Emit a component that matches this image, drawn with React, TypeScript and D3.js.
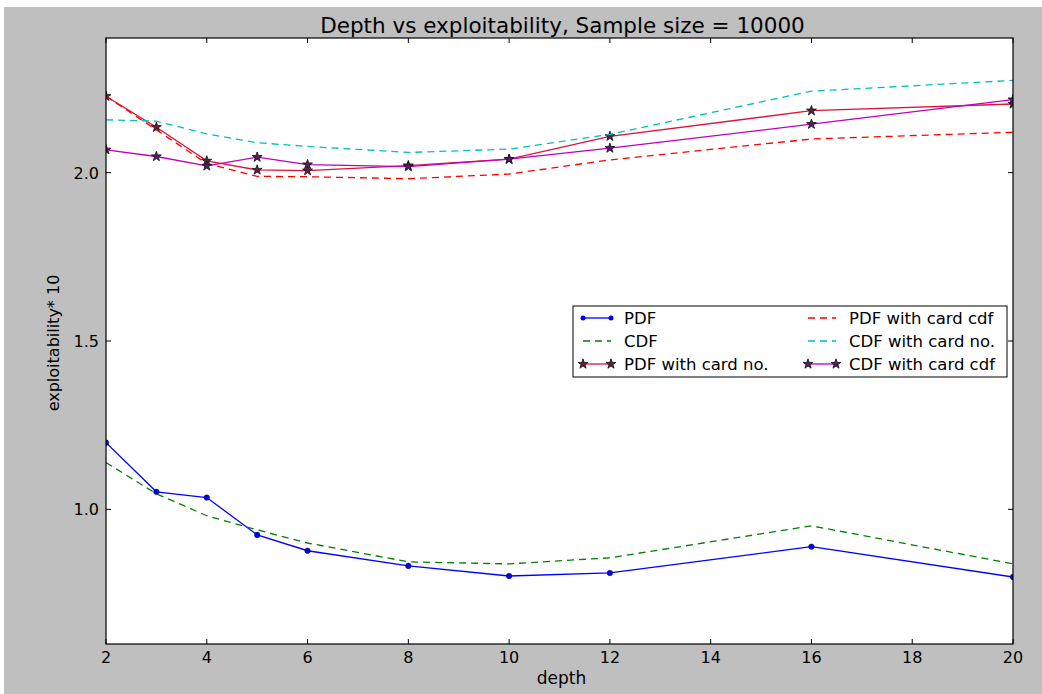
import React, { useEffect, useRef } from 'react';
import * as d3 from 'd3';

const depth = [2, 3, 4, 5, 6, 8, 10, 12, 16, 20];
const pdf = [1.198, 1.052, 1.035, 0.924, 0.877, 0.832, 0.802, 0.811, 0.889, 0.799];
const cdf = [1.139, 1.046, 0.981, 0.939, 0.9, 0.844, 0.838, 0.856, 0.951, 0.838];
const pdfCardNo = [2.227, 2.135, 2.035, 2.008, 2.006, 2.021, 2.04, 2.108, 2.184, 2.204];
const pdfCardCdf = [2.227, 2.127, 2.027, 1.989, 1.988, 1.982, 1.996, 2.038, 2.1, 2.12];
const cdfCardNo = [2.157, 2.153, 2.115, 2.089, 2.078, 2.06, 2.07, 2.114, 2.242, 2.274];
const cdfCardCdf = [2.068, 2.048, 2.02, 2.046, 2.024, 2.018, 2.04, 2.073, 2.144, 2.217];

const xTicks = [2, 4, 6, 8, 10, 12, 14, 16, 18, 20];
const yTicks = [1.0, 1.5, 2.0];

const series = [
  { name: 'PDF', values: pdf, color: '#0000ff', dash: null, marker: 'dot', mfill: '#0000ff' },
  { name: 'CDF', values: cdf, color: '#008000', dash: '7,5', marker: null, mfill: null },
  { name: 'PDF with card no.', values: pdfCardNo, color: '#dc143c', dash: null, marker: 'star', mfill: '#6a1a3a' },
  { name: 'PDF with card cdf', values: pdfCardCdf, color: '#ff0000', dash: '7,5', marker: null, mfill: null },
  { name: 'CDF with card no.', values: cdfCardNo, color: '#00bfbf', dash: '7,5', marker: null, mfill: null },
  { name: 'CDF with card cdf', values: cdfCardCdf, color: '#bf00bf', dash: null, marker: 'star', mfill: '#5a1870' },
];

const W = 1042;
const H = 694;
const margin = { left: 106, right: 1013, top: 38, bottom: 644 };
const font = 'DejaVu Sans, sans-serif';

export default function App() {
  const ref = useRef<SVGSVGElement>(null);

  useEffect(() => {
    const svg = d3.select(ref.current);
    svg.selectAll('*').remove();

    const x = d3.scaleLinear().domain([2, 20]).range([margin.left, margin.right]);
    const y = d3.scaleLinear().domain([0.6, 2.4]).range([margin.bottom, margin.top]);

    svg.append('rect').attr('width', W).attr('height', H).attr('fill', '#ffffff');
    svg.append('rect').attr('x', 4).attr('y', 7).attr('width', W - 4).attr('height', H - 7).attr('fill', '#bfbfbf');

    svg.append('rect')
      .attr('x', margin.left).attr('y', margin.top)
      .attr('width', margin.right - margin.left).attr('height', margin.bottom - margin.top)
      .attr('fill', '#ffffff');

    svg.append('defs').append('clipPath').attr('id', 'plotclip')
      .append('rect')
      .attr('x', margin.left).attr('y', margin.top)
      .attr('width', margin.right - margin.left).attr('height', margin.bottom - margin.top);

    const plot = svg.append('g').attr('clip-path', 'url(#plotclip)');
    const star = d3.symbol().type(d3.symbolStar).size(30);
    const line = d3.line<number>().x((d, i) => x(depth[i])).y((d) => y(d));

    series.forEach((s) => {
      plot.append('path')
        .attr('d', line(s.values))
        .attr('fill', 'none')
        .attr('stroke', s.color)
        .attr('stroke-width', 1.3)
        .attr('stroke-dasharray', s.dash);
      if (s.marker === 'dot') {
        plot.selectAll(null).data(s.values).enter().append('circle')
          .attr('cx', (d, i) => x(depth[i])).attr('cy', (d) => y(d))
          .attr('r', 2.8).attr('fill', s.mfill).attr('stroke', '#000').attr('stroke-width', 0.4);
      } else if (s.marker === 'star') {
        plot.selectAll(null).data(s.values).enter().append('path')
          .attr('d', star)
          .attr('transform', (d, i) => 'translate(' + x(depth[i]) + ',' + y(d) + ')')
          .attr('fill', s.mfill).attr('stroke', '#1a1a1a').attr('stroke-width', 0.9);
      }
    });

    // frame
    svg.append('rect')
      .attr('x', margin.left).attr('y', margin.top)
      .attr('width', margin.right - margin.left).attr('height', margin.bottom - margin.top)
      .attr('fill', 'none').attr('stroke', '#000').attr('stroke-width', 1.2);

    // ticks (inside, all four sides)
    const tl = 5;
    xTicks.forEach((t) => {
      svg.append('line').attr('x1', x(t)).attr('x2', x(t)).attr('y1', margin.bottom).attr('y2', margin.bottom - tl).attr('stroke', '#000');
      svg.append('line').attr('x1', x(t)).attr('x2', x(t)).attr('y1', margin.top).attr('y2', margin.top + tl).attr('stroke', '#000');
      svg.append('text').attr('x', x(t)).attr('y', margin.bottom + 19)
        .attr('text-anchor', 'middle').attr('font-family', font).attr('font-size', 16).attr('fill', '#000')
        .text(t);
    });
    yTicks.forEach((t) => {
      svg.append('line').attr('x1', margin.left).attr('x2', margin.left + tl).attr('y1', y(t)).attr('y2', y(t)).attr('stroke', '#000');
      svg.append('line').attr('x1', margin.right).attr('x2', margin.right - tl).attr('y1', y(t)).attr('y2', y(t)).attr('stroke', '#000');
      svg.append('text').attr('x', margin.left - 7).attr('y', y(t) + 6)
        .attr('text-anchor', 'end').attr('font-family', font).attr('font-size', 16).attr('fill', '#000')
        .text(d3.format('.1f')(t));
    });

    svg.append('text')
      .attr('x', (margin.left + margin.right) / 2 + 3).attr('y', 33)
      .attr('text-anchor', 'middle').attr('font-family', font).attr('font-size', 21.5).attr('fill', '#000')
      .text('Depth vs exploitability, Sample size = 10000');

    svg.append('text')
      .attr('x', (margin.left + margin.right) / 2 + 2).attr('y', 684)
      .attr('text-anchor', 'middle').attr('font-family', font).attr('font-size', 17).attr('fill', '#000')
      .text('depth');

    svg.append('text')
      .attr('transform', 'translate(59,' + ((margin.top + margin.bottom) / 2 + 2) + ') rotate(-90)')
      .attr('text-anchor', 'middle').attr('font-family', font).attr('font-size', 16).attr('fill', '#000')
      .text('exploitability* 10');

    // legend
    const lg = svg.append('g');
    lg.append('rect').attr('x', 573).attr('y', 306).attr('width', 434).attr('height', 71)
      .attr('fill', '#fff').attr('stroke', '#000').attr('stroke-width', 1);
    const colX = [583, 808];
    const rowY = [318, 341, 364];
    series.forEach((s, i) => {
      const cx = colX[Math.floor(i / 3)];
      const cy = rowY[i % 3];
      lg.append('line').attr('x1', cx).attr('x2', cx + 28).attr('y1', cy).attr('y2', cy)
        .attr('stroke', s.color).attr('stroke-width', 1.3).attr('stroke-dasharray', s.dash);
      [cx, cx + 28].forEach((mx) => {
        if (s.marker === 'dot') {
          lg.append('circle').attr('cx', mx).attr('cy', cy).attr('r', 2.5).attr('fill', s.mfill);
        } else if (s.marker === 'star') {
          lg.append('path').attr('d', star).attr('transform', 'translate(' + mx + ',' + cy + ')')
            .attr('fill', s.mfill).attr('stroke', '#1a1a1a').attr('stroke-width', 0.9);
        }
      });
      lg.append('text').attr('x', cx + 41).attr('y', cy + 6)
        .attr('font-family', font).attr('font-size', 16.5).attr('fill', '#000')
        .text(s.name);
    });
  }, []);

  return (
    <div style={{ position: 'absolute', left: 0, top: 0 }}>
      <svg ref={ref} width={W} height={H} style={{ display: 'block' }}></svg>
    </div>
  );
}
